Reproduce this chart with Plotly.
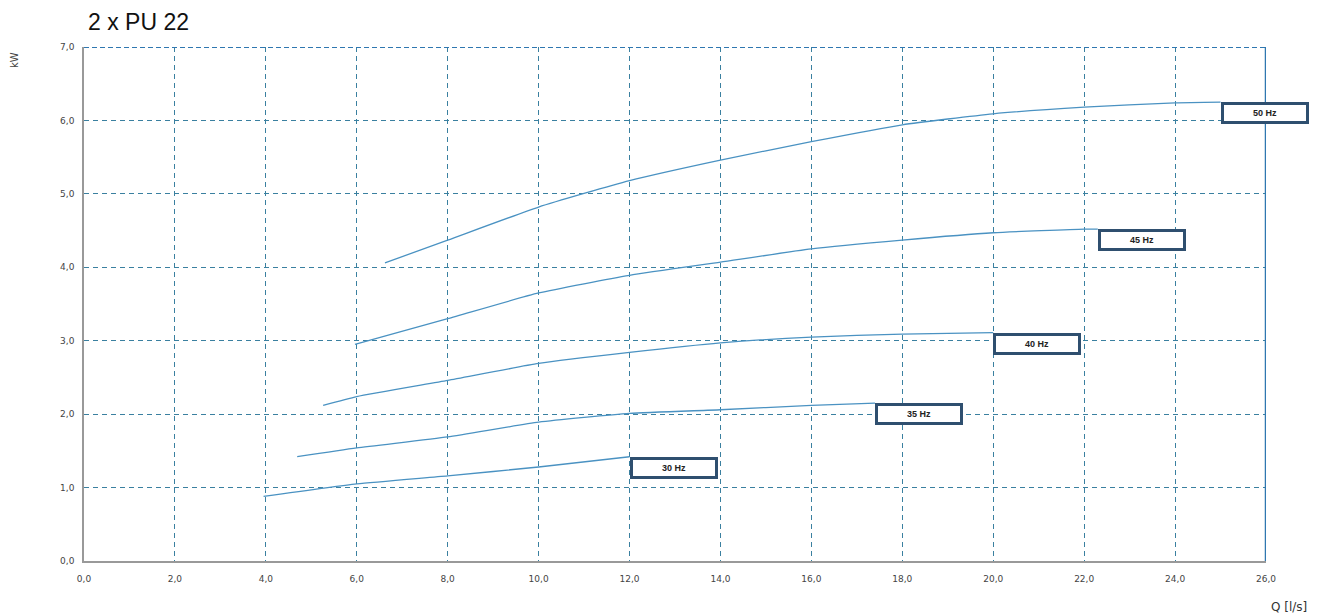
import plotly.graph_objects as go

# Data
q30 = [3.95, 6.0, 8.0, 10.0, 12.0]
p30 = [0.88, 1.05, 1.16, 1.28, 1.42]
q35 = [4.69, 6.0, 8.0, 10.0, 12.0, 14.0, 16.0, 17.4]
p35 = [1.42, 1.54, 1.69, 1.89, 2.01, 2.06, 2.12, 2.15]
q40 = [5.26, 6.0, 8.0, 10.0, 12.0, 14.0, 16.0, 18.0, 20.0]
p40 = [2.12, 2.24, 2.46, 2.69, 2.84, 2.97, 3.05, 3.09, 3.11]
q45 = [5.96, 8.0, 10.0, 12.0, 14.0, 16.0, 18.0, 20.0, 22.0, 22.3]
p45 = [2.95, 3.30, 3.65, 3.89, 4.07, 4.25, 4.37, 4.47, 4.52, 4.52]
q50 = [6.62, 8.0, 10.0, 12.0, 14.0, 16.0, 18.0, 20.0, 22.0, 24.0, 25.0]
p50 = [4.06, 4.37, 4.82, 5.18, 5.46, 5.71, 5.94, 6.09, 6.18, 6.24, 6.25]
series = [("30 Hz", q30, p30), ("35 Hz", q35, p35), ("40 Hz", q40, p40),
          ("45 Hz", q45, p45), ("50 Hz", q50, p50)]

x_ticks = [0, 2, 4, 6, 8, 10, 12, 14, 16, 18, 20, 22, 24, 26]
y_ticks = [0, 1, 2, 3, 4, 5, 6, 7]

title = "2 x PU 22"
x_title = "Q [l/s]"
y_title = "kW"

LINE = "#4a92c2"
GRID = "#3a80a0"
BOX = "#2f4f6f"

fig = go.Figure()
for name, q, p in series:
    fig.add_trace(go.Scatter(x=q, y=p, mode="lines", name=name,
                             line=dict(color=LINE, width=1.3, shape="spline", smoothing=0.5),
                             showlegend=False, hoverinfo="skip"))
    fig.add_annotation(x=q[-1], y=p[-1], xref="x", yref="y", text="<b>" + name + "</b>",
                       showarrow=False, xanchor="left", yanchor="top",
                       width=82, height=16, borderpad=0, borderwidth=3,
                       bordercolor=BOX, bgcolor="white",
                       font=dict(family="Liberation Sans", size=9, color="#222"))

tick_font = dict(family="DejaVu Sans", size=9, color="#444")
fig.update_xaxes(range=[0, 26], tickvals=x_ticks, tickformat=".1f",
                 showgrid=True, gridcolor=GRID, griddash="5px,4px", gridwidth=1,
                 showline=True, linecolor="#999", linewidth=1.5,
                 zeroline=False, ticks="", tickfont=tick_font, ticklabelstandoff=8)
fig.update_yaxes(range=[0, 7], tickvals=y_ticks, tickformat=".1f",
                 showgrid=True, gridcolor=GRID, griddash="5px,4px", gridwidth=1,
                 showline=True, linecolor="#999", linewidth=1.5,
                 zeroline=False, ticks="", tickfont=tick_font, ticklabelstandoff=6)

# frame accents: dashed top, solid right
fig.add_shape(type="line", xref="x", yref="y", x0=0, x1=26, y0=7, y1=7,
              line=dict(color="#2f77b0", width=2, dash="5px,3px"))
fig.add_shape(type="line", xref="x", yref="y", x0=26, x1=26, y0=0, y1=7,
              line=dict(color="#2f77b0", width=2.5))

fig.add_annotation(xref="paper", yref="paper", x=0.002, y=1.0, yshift=25,
                   text=title, showarrow=False, xanchor="left", yanchor="middle",
                   font=dict(family="Liberation Sans", size=23, color="#111"))
fig.add_annotation(xref="paper", yref="paper", x=0, y=1.0, xshift=-70, yshift=-13,
                   text=y_title, showarrow=False, textangle=-90,
                   xanchor="center", yanchor="middle",
                   font=dict(family="DejaVu Sans", size=10, color="#444"))
fig.add_annotation(xref="paper", yref="paper", x=1, y=0, xshift=43, yshift=-46,
                   text=x_title, showarrow=False, xanchor="right", yanchor="middle",
                   font=dict(family="DejaVu Sans", size=12, color="#333"))

# page body has an 8px margin, so the figure is offset by 8px
fig.update_layout(width=1309, height=608, autosize=False,
                  margin=dict(l=76, r=51, t=39, b=55),
                  paper_bgcolor="white", plot_bgcolor="white",
                  separators=",.")

fig.write_html("out.html")
